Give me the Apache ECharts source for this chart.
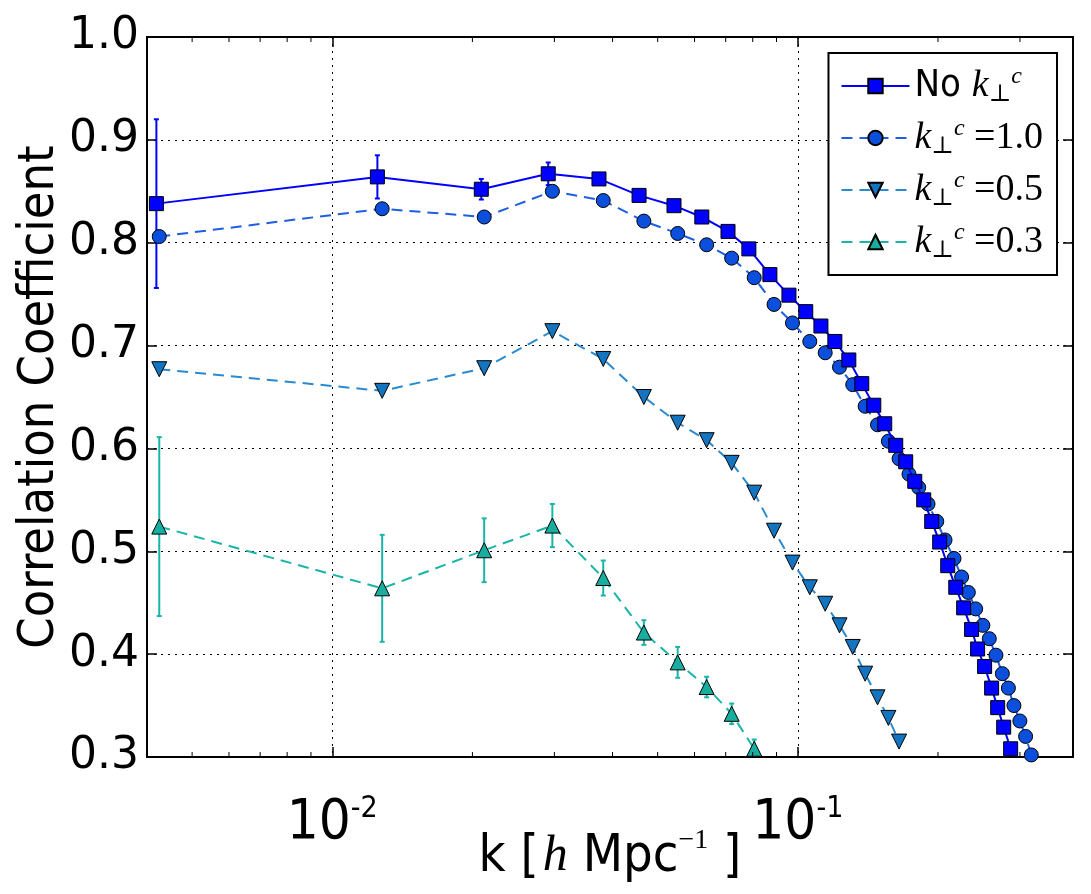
<!DOCTYPE html>
<html>
<head>
<meta charset="utf-8">
<script src="https://cdn.jsdelivr.net/npm/echarts@6/dist/echarts.min.js"></script>
<style>
  html, body { margin: 0; padding: 0; background: #fff; }
  #chart { width: 1091px; height: 894px; }
</style>
</head>
<body>
<div id="chart"></div>
<script>
// k values (h/Mpc)
const kNoCut = [0.00419, 0.0125, 0.0209, 0.0291, 0.0374, 0.0456, 0.0542, 0.0622, 0.0708, 0.0785,
  0.0871, 0.0957, 0.1040, 0.1121, 0.1201, 0.1287, 0.1372, 0.1456, 0.1537, 0.1623,
  0.1705, 0.1783, 0.1864, 0.1939, 0.2017, 0.2099, 0.2184, 0.2271, 0.2362, 0.2433,
  0.2519, 0.2608, 0.2687, 0.2768, 0.2865];
const kCut = [0.00425, 0.0128, 0.0212, 0.0297, 0.0382, 0.0467, 0.0552, 0.0637, 0.0721, 0.0806,
  0.0889, 0.0974, 0.1061, 0.1145, 0.1229, 0.1312, 0.1395, 0.1483, 0.1565, 0.1650,
  0.1733, 0.1818, 0.1904, 0.1988, 0.2071, 0.2165, 0.2248, 0.2324, 0.2410, 0.2497,
  0.2578, 0.2664, 0.2750, 0.2833, 0.2912, 0.2999, 0.3085, 0.3173];

// correlation coefficients
const rNoCut = [0.838, 0.864, 0.852, 0.867, 0.862, 0.846, 0.836, 0.825, 0.811, 0.794,
  0.769, 0.749, 0.733, 0.719, 0.704, 0.686, 0.663, 0.642, 0.624, 0.603,
  0.587, 0.568, 0.550, 0.529, 0.509, 0.486, 0.465, 0.445, 0.424, 0.405,
  0.388, 0.367, 0.348, 0.329, 0.308];
const errNoCut = [0.082, 0.021, 0.010, 0.011];
const rCut10 = [0.806, 0.833, 0.825, 0.850, 0.841, 0.821, 0.809, 0.798, 0.785, 0.766,
  0.740, 0.722, 0.704, 0.693, 0.679, 0.662, 0.641, 0.623, 0.607, 0.590,
  0.575, 0.562, 0.546, 0.529, 0.511, 0.493, 0.475, 0.460, 0.444, 0.428,
  0.415, 0.399, 0.381, 0.367, 0.350, 0.335, 0.320, 0.302];
const rCut05 = [0.677, 0.656, 0.678, 0.714, 0.687, 0.650, 0.625, 0.608, 0.586, 0.557,
  0.520, 0.489, 0.465, 0.449, 0.428, 0.407, 0.381, 0.358, 0.338, 0.315];
const rCut03 = [0.524, 0.464, 0.501, 0.525, 0.474, 0.421, 0.392, 0.368, 0.342, 0.308];
const errCut03 = [0.087, 0.052, 0.031, 0.021, 0.017, 0.012, 0.015, 0.010, 0.010, 0.009];

const yTicks = [0.3, 0.4, 0.5, 0.6, 0.7, 0.8, 0.9, 1.0];
const xMinorTicks = [0.005, 0.006, 0.007, 0.008, 0.009,
  0.02, 0.03, 0.04, 0.05, 0.06, 0.07, 0.08, 0.09, 0.2, 0.3];

const seriesNames = ['noCut', 'cut10', 'cut05', 'cut03'];
const colors = {
  noCut: '#0000ff',
  cut10: '#0b4fdc',
  cut05: '#1474c0',
  cut03: '#17ae9f'
};
const lineColors = {
  noCut: '#0000ff',
  cut10: '#1d5fe2',
  cut05: '#2a8ad0',
  cut03: '#1ab5a8'
};

const X_MIN = 0.004, X_MAX = 0.39;
const Y_MIN = yTicks[0], Y_MAX = yTicks[yTicks.length - 1];

const sansFont = '"DejaVu Sans Condensed", "DejaVu Sans", sans-serif';
const mathFont = '"Liberation Serif", "DejaVu Serif", serif';

const chart = echarts.init(document.getElementById('chart'), null, { renderer: 'canvas' });

const pair = (ks, rs) => rs.map((r, i) => [ks[i], r]);
const errData = (ks, rs, es) => es.map((e, i) => [ks[i], rs[i] - e, rs[i] + e]);

// 误差棒
const renderErr = (params, api) => {
  const lo = api.coord([api.value(0), api.value(1)]);
  const hi = api.coord([api.value(0), api.value(2)]);
  const style = { stroke: api.visual('color'), lineWidth: 2 };
  return {
    type: 'group',
    children: [
      { type: 'line', shape: { x1: lo[0], y1: lo[1], x2: hi[0], y2: hi[1] }, style },
      { type: 'line', shape: { x1: lo[0] - 2.5, y1: lo[1], x2: lo[0] + 2.5, y2: lo[1] }, style },
      { type: 'line', shape: { x1: hi[0] - 2.5, y1: hi[1], x2: hi[0] + 2.5, y2: hi[1] }, style }
    ]
  };
};

// 对数轴次刻度（上下两侧）
const renderMinor = (params, api) => {
  const b = api.coord([api.value(0), Y_MIN]);
  const t = api.coord([api.value(0), Y_MAX]);
  const style = { stroke: '#000', lineWidth: 1 };
  return {
    type: 'group',
    children: [
      { type: 'line', shape: { x1: b[0], y1: b[1], x2: b[0], y2: b[1] - 5 }, style },
      { type: 'line', shape: { x1: t[0], y1: t[1], x2: t[0], y2: t[1] + 5 }, style }
    ]
  };
};

const legendLabels = {
  noCut: '{n|No }{k|k}{sub|⊥}{sup|c}',
  cut10: '{k|k}{sub|⊥}{sup|c}{m| =1.0}',
  cut05: '{k|k}{sub|⊥}{sup|c}{m| =0.5}',
  cut03: '{k|k}{sub|⊥}{sup|c}{m| =0.3}'
};

const xLabel = (v) => {
  const e = Math.log10(v);
  const r = Math.round(e);
  if (Math.abs(e - r) > 0.01) return '';
  return '{b|10}{e|' + r + '}';
};

const option = {
  animation: false,
  backgroundColor: '#fff',
  grid: {
    left: 147, right: 18, top: 37, bottom: 137,
    containLabel: false,
    outerBoundsMode: 'none',
    show: true, borderColor: '#000', borderWidth: 2, backgroundColor: 'transparent'
  },
  legend: {
    data: seriesNames,
    orient: 'vertical',
    right: 34,
    top: 53,
    padding: [12, 14, 12, 12],
    itemGap: 10,
    itemWidth: 68,
    itemHeight: 18,
    backgroundColor: '#fff',
    borderColor: '#000',
    borderWidth: 2,
    borderRadius: 0,
    formatter: (name) => legendLabels[name],
    textStyle: {
      color: '#000',
      rich: {
        n: { fontFamily: sansFont, fontSize: 38, lineHeight: 42 },
        k: { fontFamily: mathFont, fontStyle: 'italic', fontSize: 38, lineHeight: 42 },
        sup: { fontFamily: mathFont, fontStyle: 'italic', fontSize: 24, verticalAlign: 'top', lineHeight: 42 },
        sub: { fontFamily: mathFont, fontSize: 24, verticalAlign: 'bottom', lineHeight: 42 },
        m: { fontFamily: mathFont, fontSize: 38, lineHeight: 42 }
      }
    }
  },
  xAxis: [
    {
      type: 'log',
      logBase: 10,
      min: X_MIN,
      max: X_MAX,
      position: 'bottom',
      name: '{t|k [}{h|h}{t| Mpc}{s|−1}{t| ]}',
      nameLocation: 'middle',
      nameGap: 70,
      nameMoveOverlap: false,
      nameTextStyle: {
        color: '#000',
        rich: {
          t: { fontFamily: sansFont, fontSize: 52, lineHeight: 60 },
          h: { fontFamily: mathFont, fontStyle: 'italic', fontSize: 50, lineHeight: 60, padding: [0, 0, 0, 4] },
          s: { fontFamily: mathFont, fontSize: 28, verticalAlign: 'top', lineHeight: 60 }
        }
      },
      axisLine: { show: true, lineStyle: { color: '#000', width: 2 } },
      axisTick: { show: true, inside: true, length: 10, lineStyle: { color: '#000', width: 1.5 } },
      axisLabel: {
        color: '#000',
        margin: 37,
        formatter: xLabel,
        rich: {
          b: { fontFamily: sansFont, fontSize: 56, lineHeight: 58 },
          e: { fontFamily: sansFont, fontSize: 30, verticalAlign: 'top', lineHeight: 58 }
        }
      },
      splitLine: { show: true, lineStyle: { color: '#000', type: [2, 5], width: 1 } }
    },
    {
      type: 'log',
      logBase: 10,
      min: X_MIN,
      max: X_MAX,
      position: 'top',
      axisLine: { show: true, lineStyle: { color: '#000', width: 2 } },
      axisTick: { show: true, inside: true, length: 10, lineStyle: { color: '#000', width: 1.5 } },
      axisLabel: { show: false },
      splitLine: { show: false }
    }
  ],
  yAxis: [
    {
      type: 'value',
      min: Y_MIN,
      max: Y_MAX,
      interval: 0.1,
      position: 'left',
      name: 'Correlation Coefficient',
      nameLocation: 'middle',
      nameGap: 82,
      nameMoveOverlap: false,
      nameTextStyle: { color: '#000', fontFamily: sansFont, fontSize: 50 },
      axisLine: { show: true, lineStyle: { color: '#000', width: 2 } },
      axisTick: { show: true, inside: true, length: 10, lineStyle: { color: '#000', width: 1.5 } },
      axisLabel: {
        color: '#000',
        fontFamily: '"DejaVu Sans", sans-serif',
        fontSize: 44,
        margin: 8,
        formatter: (v) => v.toFixed(1)
      },
      splitLine: { show: true, lineStyle: { color: '#000', type: [2, 5], width: 1 } }
    },
    {
      type: 'value',
      min: Y_MIN,
      max: Y_MAX,
      interval: 0.1,
      position: 'right',
      axisLine: { show: true, lineStyle: { color: '#000', width: 2 } },
      axisTick: { show: true, inside: true, length: 10, lineStyle: { color: '#000', width: 1.5 } },
      axisLabel: { show: false },
      splitLine: { show: false }
    }
  ],
  series: [
    {
      name: 'minorTicks',
      type: 'custom',
      renderItem: renderMinor,
      data: xMinorTicks.map((v) => [v, Y_MIN]),
      silent: true,
      z: 5
    },
    {
      name: 'errNoCut',
      type: 'custom',
      renderItem: renderErr,
      itemStyle: { color: colors.noCut },
      data: errData(kNoCut, rNoCut, errNoCut),
      clip: true,
      z: 2
    },
    {
      name: 'errCut03',
      type: 'custom',
      renderItem: renderErr,
      itemStyle: { color: lineColors.cut03 },
      data: errData(kCut, rCut03, errCut03),
      clip: true,
      z: 2
    },
    {
      name: 'cut03',
      type: 'line',
      data: pair(kCut, rCut03),
      symbol: 'triangle',
      symbolSize: 15,
      clip: true,
      lineStyle: { color: lineColors.cut03, width: 2, type: [11, 7] },
      itemStyle: { color: colors.cut03, borderColor: '#000', borderWidth: 1 },
      z: 3
    },
    {
      name: 'cut05',
      type: 'line',
      data: pair(kCut, rCut05),
      symbol: 'triangle',
      symbolRotate: 180,
      symbolSize: 15,
      clip: true,
      lineStyle: { color: lineColors.cut05, width: 2, type: [11, 7] },
      itemStyle: { color: colors.cut05, borderColor: '#000', borderWidth: 1 },
      z: 3
    },
    {
      name: 'cut10',
      type: 'line',
      data: pair(kCut, rCut10),
      symbol: 'circle',
      symbolSize: 14,
      clip: true,
      lineStyle: { color: lineColors.cut10, width: 2, type: [11, 7] },
      itemStyle: { color: colors.cut10, borderColor: '#000', borderWidth: 1 },
      z: 3
    },
    {
      name: 'noCut',
      type: 'line',
      data: pair(kNoCut, rNoCut),
      symbol: 'rect',
      symbolSize: 14,
      clip: true,
      lineStyle: { color: lineColors.noCut, width: 2 },
      itemStyle: { color: colors.noCut, borderColor: '#000', borderWidth: 1 },
      z: 4
    }
  ]
};

chart.setOption(option);
</script>
</body>
</html>
